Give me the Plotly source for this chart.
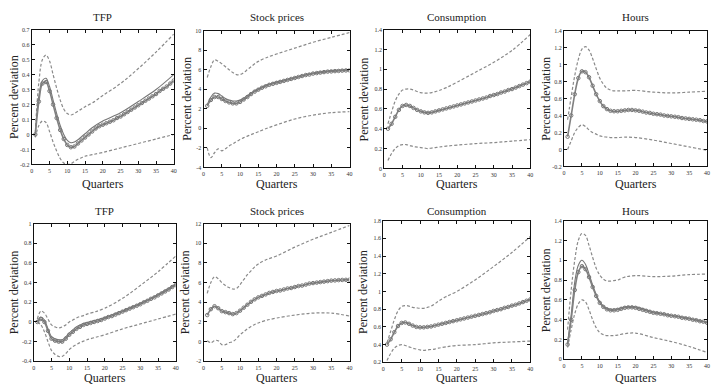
import plotly.graph_objects as go

W, H = 712, 387

titles = ["TFP", "Stock prices", "Consumption", "Hours", "TFP", "Stock prices", "Consumption", "Hours"]

quarters = list(range(1, 41))
qband = [1, 2, 3, 4, 5, 6, 7, 8, 9, 10, 11, 12, 13, 14, 15, 17, 20, 25, 30, 35, 40]
x_ticks = [0, 5, 10, 15, 20, 25, 30, 35, 40]
x_tick_labels = ["0", "5", "10", "15", "20", "25", "30", "35", "40"]

# ---- Top row ----
tfp1_mid = [0.00, 0.22, 0.34, 0.35, 0.29, 0.20, 0.11, 0.03, -0.03, -0.07, -0.085, -0.08, -0.06, -0.04, -0.02,
            0.00, 0.02, 0.04, 0.055, 0.065, 0.075, 0.085, 0.095, 0.11, 0.12, 0.135, 0.15, 0.165, 0.18, 0.195,
            0.21, 0.225, 0.24, 0.255, 0.27, 0.29, 0.305, 0.32, 0.34, 0.36]
tfp1_inner = [0.01, 0.26, 0.36, 0.375, 0.32, 0.23, 0.14, 0.06, 0.0, -0.04, -0.055, -0.05, -0.035, -0.015, 0.005,
              0.045, 0.09, 0.145, 0.22, 0.30, 0.40]
tfp1_hi = [0.02, 0.35, 0.50, 0.53, 0.49, 0.40, 0.31, 0.23, 0.17, 0.14, 0.13, 0.14, 0.155, 0.17, 0.185,
           0.21, 0.26, 0.34, 0.44, 0.55, 0.67]
tfp1_lo = [-0.02, 0.06, 0.09, 0.08, 0.02, -0.05, -0.11, -0.16, -0.19, -0.20, -0.195, -0.18, -0.165, -0.155, -0.145,
           -0.135, -0.12, -0.09, -0.06, -0.03, 0.0]

stk1_mid = [2.3, 2.9, 3.2, 3.2, 3.0, 2.8, 2.65, 2.55, 2.55, 2.7, 2.95, 3.2, 3.5, 3.75, 3.95, 4.15, 4.3, 4.45, 4.55, 4.65,
            4.75, 4.85, 4.95, 5.05, 5.15, 5.25, 5.35, 5.45, 5.5, 5.6, 5.65, 5.7, 5.75, 5.8, 5.82, 5.85, 5.87, 5.9, 5.92, 5.93]
stk1_inner = [2.4, 3.2, 3.6, 3.55, 3.3, 3.05, 2.9, 2.8, 2.8, 2.9, 3.1, 3.35, 3.6, 3.85, 4.05, 4.4, 4.75, 5.2, 5.65, 5.9, 6.0]
stk1_hi = [5.2, 6.3, 7.0, 6.85, 6.6, 6.3, 6.0, 5.7, 5.5, 5.5, 5.7, 6.0, 6.3, 6.6, 6.85, 7.2, 7.6, 8.2, 8.8, 9.3, 9.8]
stk1_lo = [-2.0, -3.0, -2.5, -2.1, -2.3, -2.1, -1.8, -1.6, -1.35, -1.15, -0.95, -0.8, -0.65, -0.5, -0.35,
           -0.05, 0.35, 0.95, 1.35, 1.6, 1.7]

con1_mid = [0.40, 0.45, 0.52, 0.59, 0.63, 0.64, 0.63, 0.61, 0.59, 0.575, 0.565, 0.56, 0.565, 0.575, 0.585, 0.595,
            0.605, 0.615, 0.625, 0.635, 0.645, 0.655, 0.665, 0.675, 0.685, 0.695, 0.705, 0.715, 0.73, 0.74, 0.75,
            0.765, 0.775, 0.79, 0.80, 0.815, 0.83, 0.845, 0.86, 0.875]
con1_inner = None
con1_hi = [0.45, 0.57, 0.68, 0.75, 0.79, 0.80, 0.80, 0.79, 0.775, 0.765, 0.76, 0.76, 0.765, 0.775, 0.785,
           0.815, 0.87, 0.97, 1.07, 1.19, 1.35]
con1_lo = [0.08, 0.15, 0.20, 0.23, 0.24, 0.24, 0.23, 0.22, 0.215, 0.21, 0.205, 0.20, 0.205, 0.21, 0.215,
           0.225, 0.235, 0.25, 0.26, 0.275, 0.29]

hrs1_mid = [0.15, 0.40, 0.65, 0.84, 0.92, 0.91, 0.85, 0.75, 0.65, 0.57, 0.51, 0.475, 0.455, 0.45, 0.45, 0.455, 0.46,
            0.465, 0.465, 0.46, 0.455, 0.445, 0.435, 0.43, 0.42, 0.415, 0.41, 0.40, 0.395, 0.39, 0.385, 0.38, 0.37,
            0.365, 0.36, 0.355, 0.35, 0.345, 0.335, 0.33]
hrs1_inner = None
hrs1_hi = [0.35, 0.62, 0.87, 1.06, 1.18, 1.21, 1.17, 1.07, 0.95, 0.84, 0.77, 0.72, 0.70, 0.69, 0.69,
           0.69, 0.695, 0.675, 0.665, 0.675, 0.685]
hrs1_lo = [0.0, 0.1, 0.2, 0.26, 0.29, 0.27, 0.23, 0.2, 0.18, 0.16, 0.15, 0.145, 0.14, 0.14, 0.14,
           0.145, 0.14, 0.11, 0.07, 0.03, -0.01]

# ---- Bottom row ----
tfp2_mid = [0.0, 0.03, 0.0, -0.09, -0.17, -0.19, -0.2, -0.2, -0.17, -0.13, -0.1, -0.07, -0.05, -0.03, -0.02, -0.01,
            0.0, 0.01, 0.02, 0.035, 0.05, 0.06, 0.075, 0.09, 0.105, 0.12, 0.135, 0.15, 0.165, 0.18, 0.2, 0.215,
            0.235, 0.25, 0.27, 0.29, 0.31, 0.33, 0.355, 0.375]
tfp2_inner = [0.01, 0.05, 0.02, -0.07, -0.15, -0.17, -0.18, -0.18, -0.15, -0.11, -0.08, -0.05, -0.03, -0.015, -0.005,
              0.015, 0.045, 0.115, 0.19, 0.28, 0.385]
tfp2_hi = [0.03, 0.11, 0.09, 0.03, -0.03, -0.05, -0.06, -0.05, -0.03, 0.0, 0.02, 0.04, 0.055, 0.065, 0.08,
           0.1, 0.14, 0.24, 0.37, 0.51, 0.67]
tfp2_lo = [0.0, -0.03, -0.1, -0.2, -0.29, -0.33, -0.35, -0.35, -0.32, -0.28, -0.25, -0.23, -0.21, -0.195, -0.18,
           -0.16, -0.13, -0.07, -0.02, 0.03, 0.08]

stk2_mid = [2.7, 3.3, 3.6, 3.4, 3.1, 3.0, 2.9, 2.8, 2.9, 3.15, 3.45, 3.75, 4.05, 4.3, 4.5, 4.65, 4.8, 4.95, 5.05, 5.15,
            5.2, 5.3, 5.4, 5.45, 5.55, 5.65, 5.7, 5.8, 5.9, 5.95, 6.0, 6.05, 6.1, 6.15, 6.2, 6.22, 6.25, 6.27, 6.28, 6.3]
stk2_inner = None
stk2_hi = [4.9, 6.0, 6.6, 6.4, 6.0, 5.7, 5.5, 5.35, 5.4, 5.8, 6.3, 6.8, 7.2, 7.6, 7.9, 8.3, 8.7, 9.6, 10.4, 11.1, 11.8]
stk2_lo = [0.1, -0.1, 0.1, 0.1, -0.3, -0.3, -0.1, 0.0, 0.3, 0.7, 1.0, 1.3, 1.55, 1.75, 1.9, 2.15, 2.4, 2.7, 2.9, 2.9, 2.6]

con2_mid = [0.40, 0.46, 0.54, 0.61, 0.645, 0.65, 0.635, 0.615, 0.60, 0.595, 0.595, 0.60, 0.605, 0.615, 0.625, 0.635,
            0.645, 0.655, 0.665, 0.675, 0.685, 0.695, 0.705, 0.715, 0.725, 0.735, 0.745, 0.755, 0.765, 0.78, 0.79,
            0.80, 0.815, 0.825, 0.84, 0.85, 0.865, 0.88, 0.895, 0.91]
con2_inner = None
con2_hi = [0.42, 0.55, 0.68, 0.78, 0.83, 0.84, 0.835, 0.82, 0.815, 0.81, 0.81, 0.82, 0.835, 0.86, 0.89,
           0.94, 1.0, 1.13, 1.28, 1.44, 1.62]
con2_lo = [0.22, 0.30, 0.36, 0.39, 0.40, 0.39, 0.375, 0.36, 0.35, 0.34, 0.335, 0.34, 0.345, 0.35, 0.36,
           0.375, 0.39, 0.40, 0.42, 0.43, 0.44]

hrs2_mid = [0.15, 0.40, 0.70, 0.88, 0.94, 0.91, 0.83, 0.73, 0.64, 0.57, 0.53, 0.505, 0.495, 0.495, 0.50, 0.51, 0.52,
            0.525, 0.525, 0.52, 0.51, 0.50, 0.49, 0.48, 0.47, 0.465, 0.46, 0.455, 0.445, 0.44, 0.435, 0.43, 0.42,
            0.415, 0.41, 0.40, 0.395, 0.385, 0.38, 0.37]
hrs2_inner = [0.17, 0.45, 0.78, 0.95, 1.0, 0.96, 0.86, 0.75, 0.655, 0.58, 0.54, 0.515, 0.505, 0.505, 0.51,
              0.53, 0.53, 0.48, 0.445, 0.415, 0.375]
hrs2_hi = [0.3, 0.7, 1.0, 1.2, 1.27, 1.25, 1.15, 1.03, 0.92, 0.85, 0.81, 0.79, 0.79, 0.795, 0.80,
           0.83, 0.845, 0.835, 0.84, 0.855, 0.86]
hrs2_lo = [0.12, 0.3, 0.46, 0.56, 0.6, 0.58, 0.5, 0.4, 0.32, 0.27, 0.25, 0.24, 0.24, 0.24, 0.245,
           0.26, 0.265, 0.22, 0.18, 0.13, 0.07]

y_tick_labels = [
    ["-0.2", "-0.1", "0", "0.1", "0.2", "0.3", "0.4", "0.5", "0.6", "0.7"],
    ["-4", "-2", "0", "2", "4", "6", "8", "10"],
    ["0", "0.2", "0.4", "0.6", "0.8", "1", "1.2", "1.4"],
    ["-0.2", "0", "0.2", "0.4", "0.6", "0.8", "1", "1.2", "1.4"],
    ["-0.4", "-0.2", "0", "0.2", "0.4", "0.6", "0.8", "1"],
    ["-2", "0", "2", "4", "6", "8", "10", "12"],
    ["0.2", "0.4", "0.6", "0.8", "1", "1.2", "1.4", "1.6", "1.8"],
    ["0", "0.2", "0.4", "0.6", "0.8", "1", "1.2", "1.4"],
]

panels = [
    (tfp1_mid, tfp1_inner, tfp1_hi, tfp1_lo),
    (stk1_mid, stk1_inner, stk1_hi, stk1_lo),
    (con1_mid, con1_inner, con1_hi, con1_lo),
    (hrs1_mid, hrs1_inner, hrs1_hi, hrs1_lo),
    (tfp2_mid, tfp2_inner, tfp2_hi, tfp2_lo),
    (stk2_mid, stk2_inner, stk2_hi, stk2_lo),
    (con2_mid, con2_inner, con2_hi, con2_lo),
    (hrs2_mid, hrs2_inner, hrs2_hi, hrs2_lo),
]

# pixel boxes (left, right, top, bottom)
boxes = [
    (30, 173, 27, 164), (203, 350, 28, 167), (385, 532, 27, 168), (566, 710, 28, 166),
    (32, 175, 224, 364), (203, 350, 224, 364), (384, 532, 221, 365), (566, 710, 221, 362),
]
ytitle_x = [12, 186, 365, 548, 13, 185, 364, 548]

FONT = "Liberation Serif"
fig = go.Figure()
layout = dict(width=W, height=H, margin=dict(l=0, r=0, t=0, b=0),
              paper_bgcolor="white", plot_bgcolor="white", showlegend=False,
              font=dict(family=FONT, color="#222"))
annotations = []

for i, ((mid, inner, hi, lo), box, ylabs) in enumerate(zip(panels, boxes, y_tick_labels)):
    n = i + 1
    xa = "x" if n == 1 else f"x{n}"
    ya = "y" if n == 1 else f"y{n}"
    yvals = [float(v) for v in ylabs]
    for band in (hi, lo):
        fig.add_trace(go.Scatter(x=qband, y=band, xaxis=xa, yaxis=ya, mode="lines",
                                 line=dict(color="#8a8a8a", width=1.2, dash="3px,2px", shape="spline")))
    if inner is not None:
        fig.add_trace(go.Scatter(x=qband, y=inner, xaxis=xa, yaxis=ya, mode="lines",
                                 line=dict(color="#777", width=1.1, shape="spline")))
    fig.add_trace(go.Scatter(x=quarters, y=mid, xaxis=xa, yaxis=ya, mode="lines+markers",
                             line=dict(color="#808080", width=1.6, shape="spline"),
                             marker=dict(symbol="circle-open", size=3.5, color="#777", line=dict(width=1))))
    l, r, t, b = box
    sfx = "" if n == 1 else str(n)
    common = dict(showline=True, linecolor="#111", linewidth=1, mirror="ticks", ticks="inside",
                  ticklen=3, tickcolor="#111", showgrid=False, zeroline=False,
                  tickfont=dict(family=FONT, size=6, color="#333"))
    layout["xaxis" + sfx] = dict(domain=[l / W, r / W], anchor=ya, range=[0, 40],
                                 tickvals=x_ticks, ticktext=x_tick_labels, **common)
    layout["yaxis" + sfx] = dict(domain=[1 - b / H, 1 - t / H], anchor=xa,
                                 range=[yvals[0], yvals[-1]], tickvals=yvals, ticktext=ylabs, **common)
    cx = (l + r) / 2 / W
    top_title_y = 14 if n <= 4 else 211
    quarters_y = 184 if n <= 4 else 381
    annotations.append(dict(text=titles[i], x=cx, y=1 - top_title_y / H, xref="paper", yref="paper",
                            xanchor="center", yanchor="middle",
                            showarrow=False, font=dict(family=FONT, size=11, color="#222")))
    annotations.append(dict(text="Quarters", x=cx, y=1 - quarters_y / H, xref="paper", yref="paper",
                            xanchor="center", yanchor="middle",
                            showarrow=False, font=dict(family=FONT, size=12, color="#222")))
    annotations.append(dict(text="Percent deviation", x=ytitle_x[i] / W, y=1 - (t + b) / 2 / H,
                            xref="paper", yref="paper", textangle=-90, showarrow=False,
                            xanchor="center", yanchor="middle",
                            font=dict(family=FONT, size=12, color="#222")))

layout["annotations"] = annotations
fig.update_layout(**layout)
fig.write_html("out.html")
